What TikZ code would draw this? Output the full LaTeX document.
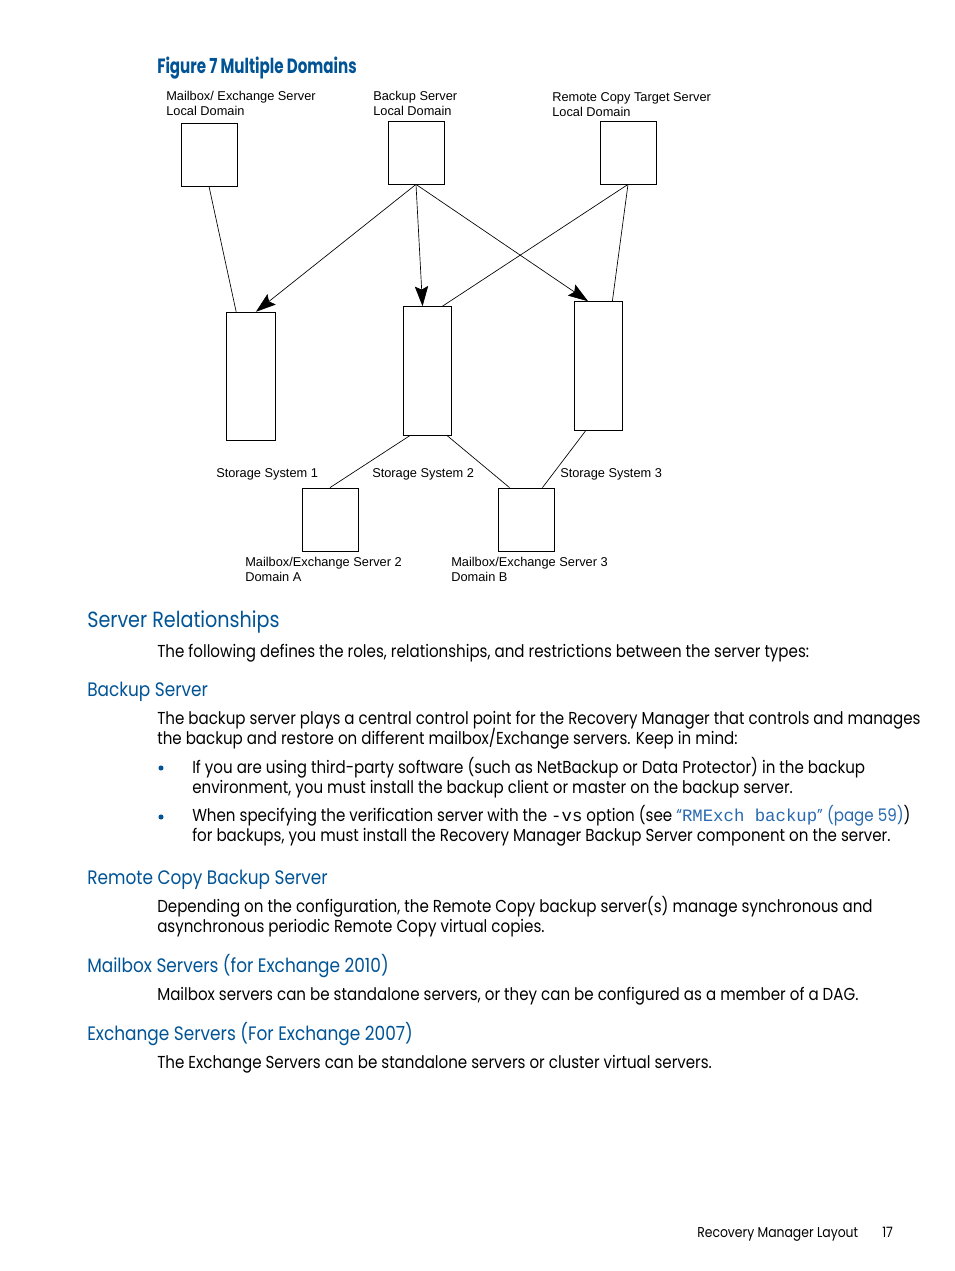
\documentclass[tikz,border=0pt]{standalone}
\usepackage{fontspec}
\setmainfont{Poppins}[FakeStretch=0.87]
\newfontfamily\arialfont{Liberation Sans}
\newfontfamily\titlefont{Poppins}[FakeStretch=0.73]
\setmonofont{Liberation Mono}
\usetikzlibrary{arrows.meta,calc}
\definecolor{hpblue}{RGB}{0,84,150}
\definecolor{linkblue}{RGB}{40,105,175}

\begin{document}
\begin{tikzpicture}[x=0.75pt,y=-0.75pt,
    box/.style={draw,line width=0.6pt,inner sep=0pt},
    srv/.style={box,minimum width=42pt,minimum height=47.25pt},
    stor/.style={box,minimum width=36.5pt,minimum height=96.5pt},
    lbl/.style={font=\arialfont\fontsize{9.6}{11.25}\selectfont,align=left,anchor=base west,inner sep=0pt},
    hd/.style={font=\fontsize{16.5}{20}\selectfont,text=hpblue,anchor=base west,inner sep=0pt},
    subhd/.style={hd,font=\fontsize{14.6}{18}\selectfont},
    txt/.style={font=\fontsize{13}{15}\selectfont,anchor=base west,inner sep=0pt},
    arr/.style={-{Stealth[length=15pt,width=10pt,inset=2.5pt]}}]
  \useasboundingbox[fill=white] (0,0) rectangle (954,1271);
  \node[anchor=base west,inner sep=0pt,text=hpblue,font=\titlefont\bfseries\fontsize{15.5}{18}\selectfont] (title) at (157,73) {Figure 7 Multiple Domains};
  % servers and storage systems
  \foreach \n/\x/\y in {mbA/209/154.5, bk/416/152.5, rc/628/152.5, mbB/330/519.5, mbC/526/519.5}
    \node[srv] (\n) at (\x,\y) {};
  \foreach \n/\x/\y in {ssA/251/376.5, ssB/427.5/371, ssC/598.5/366}
    \node[stor] (\n) at (\x,\y) {};
  \node[lbl] (lmbA) at (166,115) {Mailbox/ Exchange Server\\Local Domain};
  \node[lbl] (lbk) at (373,115) {Backup Server\\Local Domain};
  \node[lbl] (lrc) at (552,116) {Remote Copy Target Server\\Local Domain};
  \foreach \n/\x/\l in {lssA/216/1, lssB/372/2, lssC/560/3}
    \node[lbl] (\n) at (\x,477) {Storage System \l};
  \node[lbl] (lmbB) at (245,581) {Mailbox/Exchange Server 2\\Domain A};
  \node[lbl] (lmbC) at (451,581) {Mailbox/Exchange Server 3\\Domain B};
  % connectors
  \draw[line width=0.5pt] (mbA.south) -- ($(ssA.north west)!.2!(ssA.north east)$);
  \foreach \t/\f in {ssA/.6, ssB/.4, ssC/.29}
    \draw[line width=0.5pt,arr] (bk.south) -- ($(\t.north west)!\f!(\t.north east)$);
  \foreach \t/\f in {ssB/.8, ssC/.78}
    \draw[line width=0.5pt] (rc.south) -- ($(\t.north west)!\f!(\t.north east)$);
  \foreach \s/\a/\t/\b in {ssB/.14/mbB/.5, ssB/.9/mbC/.21, ssC/.24/mbC/.79}
    \draw[line width=0.5pt] ($(\s.south west)!\a!(\s.south east)$) -- ($(\t.north west)!\b!(\t.north east)$);
  % text of the page
  \node[hd] (h1) at (87,627) {Server Relationships};
  \node[txt] (p1) at (157,657) {The following defines the roles, relationships, and restrictions between the server types:};
  \node[subhd] (h2) at (87,696) {Backup Server};
  \node[txt] (p2a) at (157,724) {The backup server plays a central control point for the Recovery Manager that controls and manages};
  \node[txt] (p2b) at (157,744) {the backup and restore on different mailbox/Exchange servers. Keep in mind:};
  \node[txt] (b1a) at (192,773) {If you are using third-party software (such as NetBackup or Data Protector) in the backup};
  \node[txt] (b1b) at (192,793) {environment, you must install the backup client or master on the backup server.};
  \node[txt] (b2a) at (192,821) {When specifying the verification server with the \texttt{-vs} option (see {\color{linkblue}“\texttt{RMExch backup}” (page 59)})};
  \node[txt] (b2b) at (192,841) {for backups, you must install the Recovery Manager Backup Server component on the server.};
  \foreach \y in {768,817}
    \fill[hpblue] (161,\y) circle (1.9pt);
  \node[subhd] (h3) at (87,884) {Remote Copy Backup Server};
  \node[txt] (p3a) at (157,912) {Depending on the configuration, the Remote Copy backup server(s) manage synchronous and};
  \node[txt] (p3b) at (157,932) {asynchronous periodic Remote Copy virtual copies.};
  \node[subhd] (h4) at (87,972) {Mailbox Servers (for Exchange 2010)};
  \node[txt] (p4) at (157,1000) {Mailbox servers can be standalone servers, or they can be configured as a member of a DAG.};
  \node[subhd] (h5) at (87,1040) {Exchange Servers (For Exchange 2007)};
  \node[txt] (p5) at (157,1068) {The Exchange Servers can be standalone servers or cluster virtual servers.};
  \node[txt,font=\fontsize{10.7}{12}\selectfont] (foot) at (697,1237) {Recovery Manager Layout};
  \node[txt,font=\fontsize{10.7}{12}\selectfont] (page) at (882,1237) {17};
\end{tikzpicture}
\end{document}
